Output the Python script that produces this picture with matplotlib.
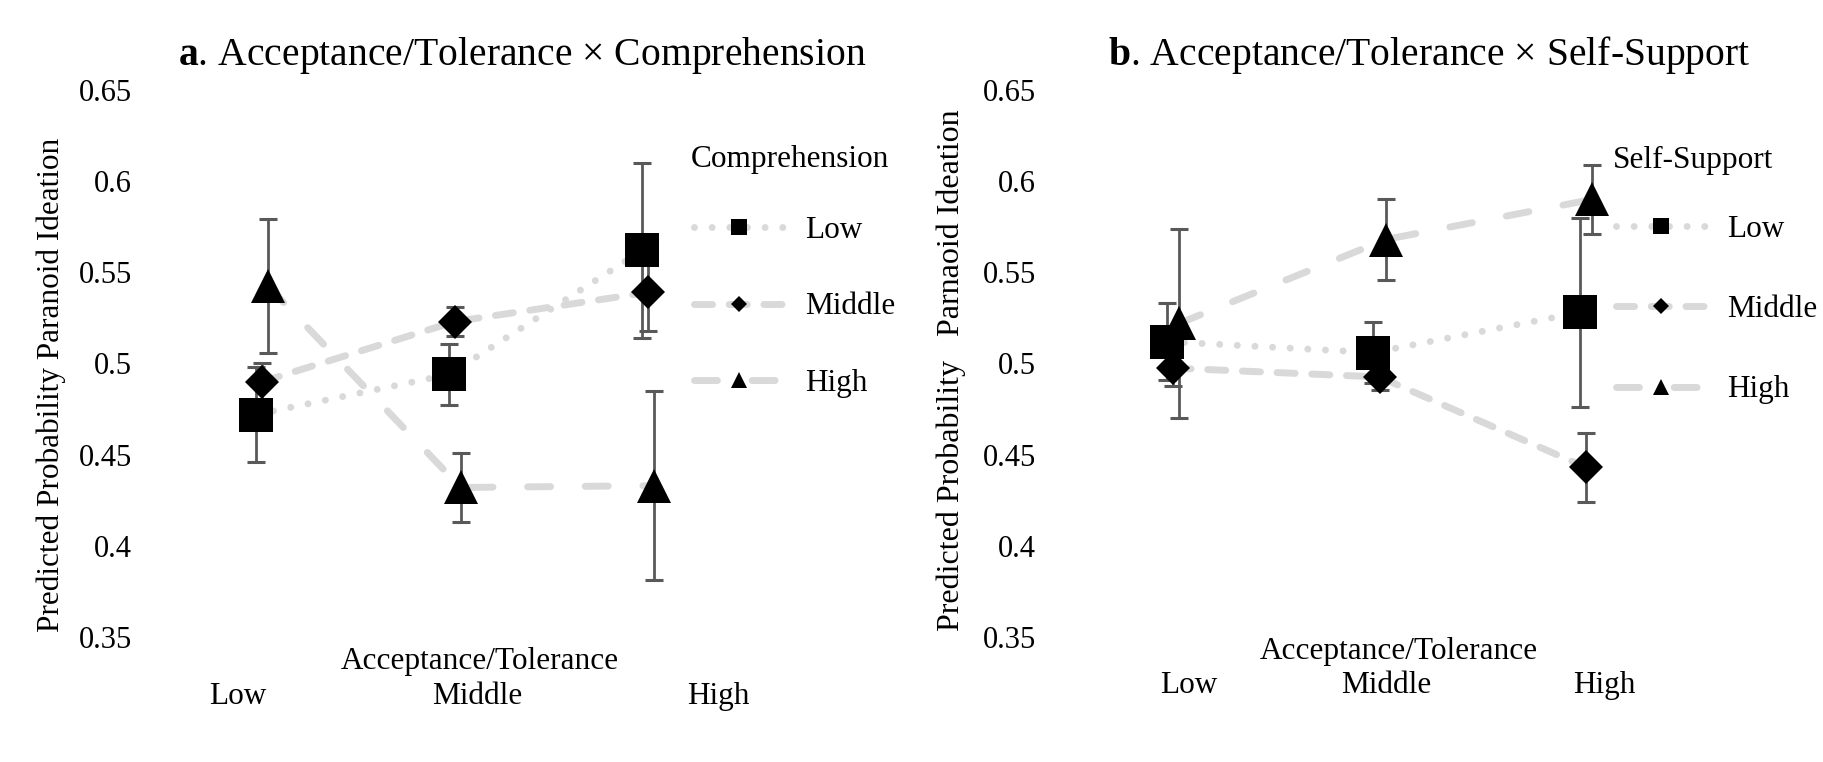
import numpy as np
import matplotlib
matplotlib.use("Agg")
import matplotlib.pyplot as plt
from matplotlib.lines import Line2D

plt.rcParams['font.family'] = ['Liberation Serif', 'DejaVu Serif']
plt.rcParams['mathtext.fontset'] = 'custom'
plt.rcParams['mathtext.rm'] = 'Liberation Serif'
plt.rcParams['mathtext.bf'] = 'Liberation Serif:bold'
plt.rcParams['lines.scale_dashes'] = False

# x categories (Acceptance/Tolerance) and legend levels
levels = ["Low", "Middle", "High"]

# panel a: Acceptance/Tolerance x Comprehension
comp_low = [0.472, 0.494, 0.562]
comp_low_err = [0.026, 0.0165, 0.048]
comp_mid = [0.490, 0.523, 0.539]
comp_mid_err = [0.010, 0.008, 0.021]
comp_high = [0.5425, 0.432, 0.433]
comp_high_err = [0.037, 0.019, 0.052]

# panel b: Acceptance/Tolerance x Self-Support
self_low = [0.512, 0.506, 0.528]
self_low_err = [0.021, 0.0165, 0.052]
self_mid = [0.4975, 0.4926, 0.443]
self_mid_err = [0.010, 0.007, 0.019]
self_high = [0.522, 0.568, 0.590]
self_high_err = [0.052, 0.022, 0.019]

yticks = [0.35, 0.4, 0.45, 0.5, 0.55, 0.6, 0.65]

GRAY = "#D9D9D9"
ERR = "#595959"
FS = 22.5

W, H = 1823, 762
STYLES = [
    dict(ls=(0, (0.01, 12.7)), marker="s", ms=25, lms=11),
    dict(ls=(0, (13, 12)), marker="D", ms=17.3, lms=7.7),
    dict(ls=(0, (16.5, 25)), marker="^", ms=25, lms=11),
]
OFFSETS = [-0.03, 0.0, 0.03]


def fx(px):
    return px / W


def fy(py):
    return 1 - py / H


def draw_panel(fig, ax, series, errs, px0, unit, left, right, tick_px, tick_pad,
               title, title_x, ylabel, ylab_xy, ylab_fs, xlab_xy, leg_title, leg_x,
               leg_top, leg_space):
    x = np.arange(3)
    for vals, err, st, off in zip(series, errs, STYLES, OFFSETS):
        xs = x + off
        ax.plot(xs, vals, color=GRAY, lw=5, ls=st["ls"], dash_capstyle="round",
                solid_capstyle="round", zorder=1)
        ax.errorbar(xs, vals, yerr=err, fmt="none", ecolor=ERR, elinewidth=2,
                    capsize=6.5, capthick=2.2, zorder=2)
    for vals, st, off in zip(series, STYLES, OFFSETS):
        ax.plot(x + off, vals, ls="none", marker=st["marker"], ms=st["ms"],
                mfc="black", mec="black", mew=0, zorder=3)

    ax.set_xlim((left - px0) / unit, (right - px0) / unit)
    ax.set_ylim(0.35, 0.65)
    ax.set_yticks(yticks)
    ax.set_yticklabels(["%g" % t for t in yticks])
    ax.set_xticks([(p - px0) / unit for p in tick_px])
    ax.set_xticklabels(levels)
    ax.tick_params(axis="y", length=0, labelsize=22, pad=6)
    ax.tick_params(axis="x", length=0, labelsize=FS, pad=tick_pad)
    for s in ax.spines.values():
        s.set_visible(False)

    ax.set_ylabel(ylabel, fontsize=ylab_fs)
    ax.yaxis.set_label_coords(fx(ylab_xy[0]), fy(ylab_xy[1]), transform=fig.transFigure)
    ax.yaxis.label.set_va("center")
    ax.set_xlabel("Acceptance/Tolerance", fontsize=FS)
    ax.xaxis.set_label_coords(fx(xlab_xy[0]), fy(xlab_xy[1]), transform=fig.transFigure)
    ax.xaxis.label.set_va("center")

    fig.text(fx(title_x), fy(65), title, fontsize=28.5, va="baseline", ha="left")

    handles = [Line2D([], [], color=GRAY, lw=5, ls=st["ls"], dash_capstyle="round",
                      marker=st["marker"], ms=st["lms"], mfc="black", mec="black", mew=0)
               for st in STYLES]
    fig.text(fx(leg_x), fy(160), leg_title, fontsize=FS, ha="left", va="center")
    ax.legend(handles, levels, loc="upper left",
              bbox_to_anchor=(fx(leg_x + 3), fy(leg_top)),
              bbox_transform=fig.transFigure, frameon=False, borderpad=0,
              borderaxespad=0, handlelength=2.9, handletextpad=0.65,
              labelspacing=leg_space, fontsize=FS, numpoints=1)


fig = plt.figure(figsize=(W / 100, H / 100), dpi=100)
bottom, top = 637, 90
ax_a = fig.add_axes([fx(140), fy(bottom), fx(905 - 140), (bottom - top) / H])
ax_b = fig.add_axes([fx(1044), fy(bottom), fx(1810 - 1044), (bottom - top) / H])

draw_panel(fig, ax_a, [comp_low, comp_mid, comp_high],
           [comp_low_err, comp_mid_err, comp_high_err],
           px0=262, unit=193, left=140, right=905, tick_px=[238, 477, 718],
           tick_pad=32.5, title=r"$\mathbf{a}$. Acceptance/Tolerance × Comprehension",
           title_x=178, ylabel="Predicted Probability Paranoid Ideation",
           ylab_xy=(51, 385), ylab_fs=FS, xlab_xy=(480, 661),
           leg_title="Comprehension", leg_x=691, leg_top=216, leg_space=1.52)

draw_panel(fig, ax_b, [self_low, self_mid, self_high],
           [self_low_err, self_mid_err, self_high_err],
           px0=1173, unit=206.5, left=1044, right=1810, tick_px=[1189, 1386, 1604],
           tick_pad=24.5, title=r"$\mathbf{b}$. Acceptance/Tolerance × Self-Support",
           title_x=1108, ylabel="Predicted Probability   Parnaoid Ideation",
           ylab_xy=(951, 370), ylab_fs=23, xlab_xy=(1399, 651),
           leg_title="Self-Support", leg_x=1613, leg_top=215, leg_space=1.64)

fig.savefig("out.png", dpi=100)
